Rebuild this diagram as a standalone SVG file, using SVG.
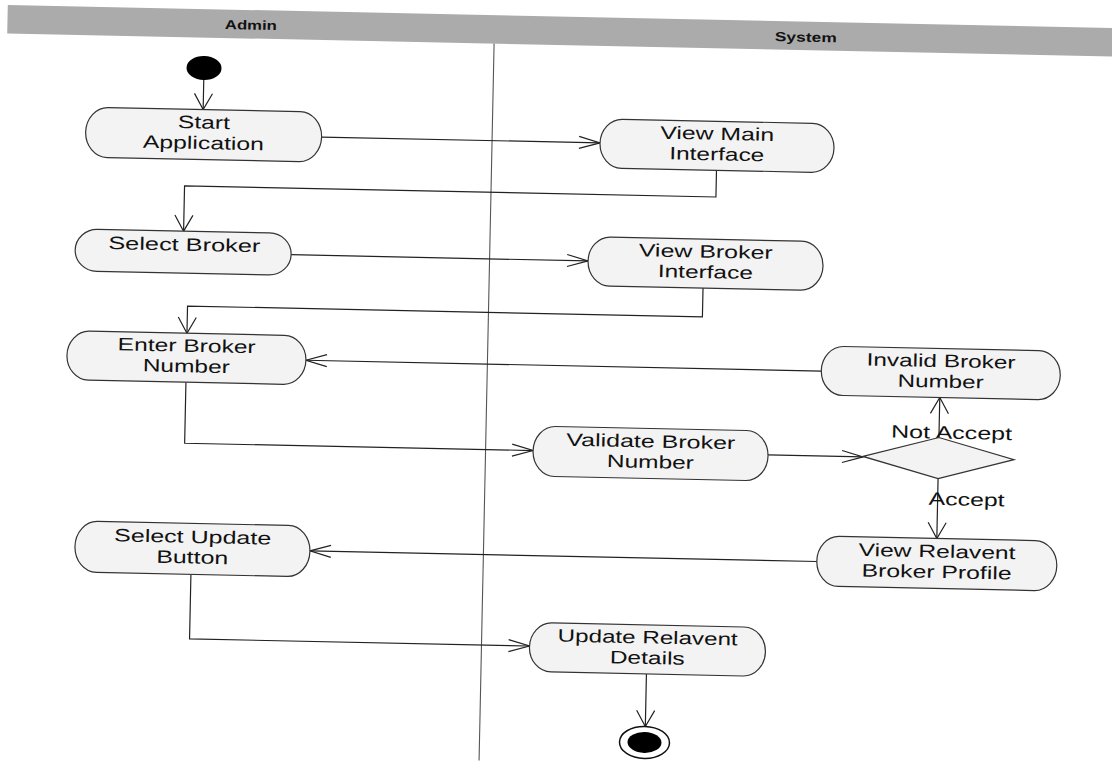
<svg xmlns="http://www.w3.org/2000/svg" width="1112" height="767" viewBox="0 0 1112 767">
  <style>
    .lane { fill: #ababab; }
    .lane-title { font-family: "Liberation Sans", Arial, sans-serif; font-size: 13px; font-weight: bold; fill: #111; text-anchor: middle; }
    .divider { stroke: #555; stroke-width: 1.1; fill: none; }
    .act { fill: #f3f3f3; stroke: #333; stroke-width: 1.2; }
    .lbl { font-family: "Liberation Sans", Arial, sans-serif; font-size: 18px; fill: #111; text-anchor: middle; }
    .flow { fill: none; stroke: #222; stroke-width: 1.2; }
    .head { fill: none; stroke: #222; stroke-width: 1.2; }
  </style>
  <defs>
    <!-- open arrowheads: long/narrow for horizontal flows, short/wide for vertical flows -->
    <marker id="arrH" viewBox="0 0 21 12" refX="21" refY="6" markerWidth="21" markerHeight="12" markerUnits="userSpaceOnUse" orient="auto" overflow="visible">
      <path class="head" d="M0,0 L21,6 L0,12"/>
    </marker>
    <marker id="arrV" viewBox="0 0 16 19" refX="16" refY="9.5" markerWidth="16" markerHeight="19" markerUnits="userSpaceOnUse" orient="auto" overflow="visible">
      <path class="head" d="M0,0.5 L16,9.5 L0,18.5"/>
    </marker>
  </defs>
  <rect width="1112" height="767" fill="#ffffff"/>

  <g transform="rotate(1.2 556 383)">
    <!-- swimlane header and partition -->
    <g id="swimlanes">
      <rect class="lane" x="0" y="16.5" width="1160" height="28.5"/>
      <text class="lane-title" x="243.5" y="36" textLength="52" lengthAdjust="spacingAndGlyphs">Admin</text>
      <text class="lane-title" x="798.5" y="36.5" textLength="62" lengthAdjust="spacingAndGlyphs">System</text>
      <line class="divider" x1="487" y1="45" x2="487" y2="762"/>
    </g>

    <!-- control flows -->
    <g id="connectors">
      <path class="flow" d="M197.5,87.5 V117" marker-end="url(#arrV)"/>
      <path class="flow" d="M316.5,142 H595" marker-end="url(#arrH)"/>
      <path class="flow" d="M712,167 V193.7 H180.5 V239" marker-end="url(#arrV)"/>
      <path class="flow" d="M288.5,260.3 H585.5" marker-end="url(#arrH)"/>
      <path class="flow" d="M701,285 V313.8 H186 V341" marker-end="url(#arrV)"/>
      <path class="flow" d="M821,365.5 H305.5" marker-end="url(#arrH)"/>
      <path class="flow" d="M186,390 V451 H534.5" marker-end="url(#arrH)"/>
      <path class="flow" d="M769.5,450.5 H864.5" marker-end="url(#arrH)"/>
      <path class="flow" d="M940,429.5 V389.5" marker-end="url(#arrV)"/>
      <path class="flow" d="M940,470.5 V530.5" marker-end="url(#arrV)"/>
      <path class="flow" d="M820.5,556 H313.5" marker-end="url(#arrH)"/>
      <path class="flow" d="M195,582 V646.5 H535" marker-end="url(#arrH)"/>
      <path class="flow" d="M652.5,672 V724.5" marker-end="url(#arrV)"/>
      <text class="lbl" x="952.5" y="430.5" textLength="121" lengthAdjust="spacingAndGlyphs">Not Accept</text>
      <text class="lbl" x="969" y="497" textLength="76" lengthAdjust="spacingAndGlyphs">Accept</text>
    </g>

    <g id="start">
      <ellipse cx="197.5" cy="75.5" rx="17.5" ry="12" fill="#000"/>
    </g>

    <g id="start-application">
      <path class="act" d="M102.5,117 H294.5 A22,25 0 0 1 294.5,167 H102.5 A22,25 0 0 1 102.5,117 Z"/>
      <text class="lbl" x="198.5" y="136" textLength="52" lengthAdjust="spacingAndGlyphs">Start</text>
      <text class="lbl" x="198.5" y="156.5" textLength="121" lengthAdjust="spacingAndGlyphs">Application</text>
    </g>

    <g id="view-main-interface">
      <path class="act" d="M617,118 H807 A22,24.5 0 0 1 807,167 H617 A22,24.5 0 0 1 617,118 Z"/>
      <text class="lbl" x="712" y="136.5" textLength="114" lengthAdjust="spacingAndGlyphs">View Main</text>
      <text class="lbl" x="712" y="157" textLength="95" lengthAdjust="spacingAndGlyphs">Interface</text>
    </g>

    <g id="select-broker">
      <path class="act" d="M94.5,239 H266.5 A22,21 0 0 1 266.5,281 H94.5 A22,21 0 0 1 94.5,239 Z"/>
      <text class="lbl" x="181.5" y="258.5" textLength="152" lengthAdjust="spacingAndGlyphs">Select Broker</text>
    </g>

    <g id="view-broker-interface">
      <path class="act" d="M607.5,236 H798.5 A22,24.5 0 0 1 798.5,285 H607.5 A22,24.5 0 0 1 607.5,236 Z"/>
      <text class="lbl" x="703" y="254.5" textLength="134" lengthAdjust="spacingAndGlyphs">View Broker</text>
      <text class="lbl" x="703" y="275" textLength="95" lengthAdjust="spacingAndGlyphs">Interface</text>
    </g>

    <g id="enter-broker-number">
      <path class="act" d="M88.5,341 H283.5 A22,24.5 0 0 1 283.5,390 H88.5 A22,24.5 0 0 1 88.5,341 Z"/>
      <text class="lbl" x="186" y="359.5" textLength="138" lengthAdjust="spacingAndGlyphs">Enter Broker</text>
      <text class="lbl" x="186" y="380" textLength="87" lengthAdjust="spacingAndGlyphs">Number</text>
    </g>

    <g id="invalid-broker-number">
      <path class="act" d="M843,340.5 H1038 A22,24.5 0 0 1 1038,389.5 H843 A22,24.5 0 0 1 843,340.5 Z"/>
      <text class="lbl" x="940.5" y="359" textLength="149" lengthAdjust="spacingAndGlyphs">Invalid Broker</text>
      <text class="lbl" x="940.5" y="379.5" textLength="86" lengthAdjust="spacingAndGlyphs">Number</text>
    </g>

    <g id="broker-check">
      <polygon class="act" points="864.5,450 940,429.5 1015.5,450 940,470.5"/>
    </g>

    <g id="validate-broker-number">
      <path class="act" d="M556.5,426.5 H747.5 A22,25 0 0 1 747.5,476.5 H556.5 A22,25 0 0 1 556.5,426.5 Z"/>
      <text class="lbl" x="652" y="445.5" textLength="169" lengthAdjust="spacingAndGlyphs">Validate Broker</text>
      <text class="lbl" x="652" y="466" textLength="87" lengthAdjust="spacingAndGlyphs">Number</text>
    </g>

    <g id="view-relavent-broker-profile">
      <path class="act" d="M842.5,530.5 H1038.5 A22,25 0 0 1 1038.5,580.5 H842.5 A22,25 0 0 1 842.5,530.5 Z"/>
      <text class="lbl" x="940.5" y="549.5" textLength="157" lengthAdjust="spacingAndGlyphs">View Relavent</text>
      <text class="lbl" x="940.5" y="570" textLength="150" lengthAdjust="spacingAndGlyphs">Broker Profile</text>
    </g>

    <g id="select-update-button">
      <path class="act" d="M100.5,531 H291.5 A22,25.5 0 0 1 291.5,582 H100.5 A22,25.5 0 0 1 100.5,531 Z"/>
      <text class="lbl" x="196" y="550.5" textLength="157" lengthAdjust="spacingAndGlyphs">Select Update</text>
      <text class="lbl" x="196" y="571" textLength="72" lengthAdjust="spacingAndGlyphs">Button</text>
    </g>

    <g id="update-relavent-details">
      <path class="act" d="M557,623 H749 A22,24.5 0 0 1 749,672 H557 A22,24.5 0 0 1 557,623 Z"/>
      <text class="lbl" x="653" y="641.5" textLength="180" lengthAdjust="spacingAndGlyphs">Update Relavent</text>
      <text class="lbl" x="653" y="662" textLength="75" lengthAdjust="spacingAndGlyphs">Details</text>
    </g>

    <g id="end">
      <ellipse cx="652" cy="740.5" rx="25" ry="16" fill="#fff" stroke="#111" stroke-width="1.5"/>
      <ellipse cx="652" cy="740.5" rx="17" ry="10.5" fill="#000"/>
    </g>
  </g>
</svg>
